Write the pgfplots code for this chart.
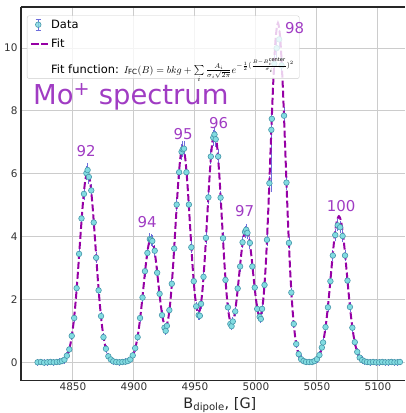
\documentclass[border=0pt]{standalone}
\usepackage{amsmath}
\usepackage{pgfplots}
\pgfplotsset{compat=1.18}
\usepackage{fontspec}
\setmainfont{DejaVu Sans}
\definecolor{mkfill}{RGB}{130,220,225}
\definecolor{mkedge}{RGB}{70,150,170}
\definecolor{errcol}{RGB}{110,110,220}
\definecolor{fitcol}{RGB}{150,0,165}
\definecolor{labcol}{RGB}{160,60,195}
\begin{document}
\begin{tikzpicture}
\useasboundingbox (-21bp,-32.3bp) rectangle (385bp,380.7bp);
\begin{axis}[
  scale only axis, width=384bp, height=373.7bp,
  xmin=4807.4, xmax=5122.15, ymin=-0.586, ymax=11.31,
  axis x line*=box, axis y line*=left,
  axis line style={line width=1.2bp, black!85},
  xtick={4850,4900,...,5100}, ytick={0,2,...,10},
  scaled x ticks=false,
  /pgf/number format/1000 sep={},
  /pgf/number format/assume math mode=true,
  major tick length=0pt,
  tick label style={font=\fontsize{10.5}{12}\selectfont, text=black!80},
  xticklabel style={yshift=1.5bp},
  grid=major, grid style={line width=1bp, black!20},
  xlabel={B\textsubscript{dipole}, [G]},
  xlabel style={at={(axis description cs:0.518,0)}, anchor=base, yshift=-27.5bp, font=\fontsize{14.5}{16}\selectfont, text=black!85},
  legend style={at={(axis description cs:0.0156,0.977)}, anchor=north west, draw=black!20, fill=white, fill opacity=0.8, text opacity=1, rounded corners=2bp, font=\fontsize{11.5}{13.5}\selectfont, row sep=5bp},
  legend cell align=left,
]
\addplot[forget plot, only marks, mark=*, mark size=2.8bp,
  mark options={draw=mkedge, fill=mkfill, line width=0.6bp},
  error bars/.cd, y dir=both, y explicit,
  error bar style={errcol, line width=0.8bp},
  error mark options={errcol, line width=0.8bp, mark size=2.5bp}]
table[x=x, y=y, y error plus=ep, y error minus=em] {
x y ep em
4821.0 0.00 0.03 0.03
4823.7 0.01 0.03 0.03
4826.3 -0.01 0.03 0.03
4829.0 0.00 0.03 0.03
4831.6 0.01 0.03 0.03
4834.2 0.00 0.03 0.03
4836.8 0.01 0.03 0.03
4839.2 0.02 0.03 0.03
4841 0.04 0.03 0.03
4843 0.08 0.04 0.04
4845 0.21 0.04 0.04
4847 0.41 0.04 0.04
4849 0.84 0.05 0.05
4851 1.41 0.05 0.05
4853 2.36 0.07 0.07
4855 3.45 0.09 0.09
4857 4.58 0.13 0.13
4859 5.36 0.13 0.13
4861 6.02 0.15 0.15
4862 6.12 0.15 0.15
4863 5.90 0.15 0.15
4865 5.47 0.13 0.13
4867 4.45 0.11 0.11
4869 3.33 0.09 0.09
4871 2.29 0.07 0.07
4873 1.47 0.05 0.05
4875 0.80 0.05 0.05
4877 0.43 0.04 0.04
4879 0.19 0.04 0.04
4881 0.09 0.04 0.04
4883 0.03 0.03 0.03
4885.5 0.01 0.03 0.03
4888 0.00 0.03 0.03
4890.5 0.01 0.03 0.03
4893 0.02 0.03 0.03
4895 0.04 0.03 0.03
4897 0.09 0.04 0.04
4899 0.22 0.04 0.04
4901 0.45 0.04 0.04
4903 0.80 0.05 0.05
4905 1.41 0.05 0.05
4907 2.06 0.07 0.07
4909 2.90 0.09 0.09
4911 3.48 0.09 0.09
4913 3.92 0.11 0.11
4914 3.90 0.11 0.11
4915 3.86 0.11 0.11
4917 3.55 0.11 0.11
4919 2.85 0.09 0.09
4921 2.18 0.07 0.07
4923 1.50 0.07 0.07
4925 1.10 0.05 0.05
4926 1.00 0.05 0.05
4927 1.16 0.05 0.05
4929 1.66 0.07 0.07
4931 2.50 0.07 0.07
4933 3.62 0.11 0.11
4935 5.02 0.13 0.13
4937 6.05 0.15 0.15
4939 6.70 0.17 0.17
4940 6.78 0.17 0.17
4941 6.80 0.17 0.17
4943 6.05 0.15 0.15
4945 5.02 0.13 0.13
4947 3.66 0.11 0.11
4949 2.58 0.09 0.09
4951 1.78 0.07 0.07
4953 1.50 0.07 0.07
4954 1.48 0.05 0.05
4955 1.86 0.07 0.07
4957 2.72 0.09 0.09
4959 3.96 0.11 0.11
4961 5.25 0.13 0.13
4963 6.55 0.17 0.17
4965 7.15 0.17 0.17
4966 7.25 0.17 0.17
4967 7.10 0.17 0.17
4969 6.55 0.17 0.17
4971 5.24 0.13 0.13
4973 3.95 0.11 0.11
4975 2.62 0.09 0.09
4977 1.75 0.07 0.07
4979 1.22 0.05 0.05
4980 1.15 0.05 0.05
4981 1.30 0.05 0.05
4983 1.62 0.07 0.07
4985 2.35 0.07 0.07
4987 3.05 0.09 0.09
4989 3.82 0.11 0.11
4991 4.15 0.11 0.11
4992 4.22 0.11 0.11
4993 4.12 0.11 0.11
4995 3.80 0.11 0.11
4997 3.05 0.09 0.09
4999 2.38 0.07 0.07
5001 1.70 0.07 0.07
5003 1.45 0.05 0.05
5004 1.38 0.05 0.05
5005 1.70 0.07 0.07
5007 2.46 0.07 0.07
5009 3.90 0.11 0.11
5011 5.70 0.15 0.15
5012.6 7.40 0.17 1.90
5013 7.75 0.19 0.19
5015 9.50 0.23 0.23
5017 10.00 0.23 0.23
5019 10.28 0.23 0.23
5021 9.45 0.23 0.23
5023 7.85 0.19 0.19
5025 5.72 0.15 0.15
5027 3.80 0.11 0.11
5029 2.22 0.07 0.07
5031 1.22 0.05 0.05
5033 0.58 0.05 0.05
5035 0.26 0.04 0.04
5037 0.10 0.04 0.04
5039 0.04 0.03 0.03
5041 0.01 0.03 0.03
5043.5 0.01 0.03 0.03
5046 0.01 0.03 0.03
5048 0.04 0.03 0.03
5050 0.10 0.04 0.04
5052 0.23 0.04 0.04
5054 0.47 0.04 0.04
5055 0.63 0.05 0.05
5057 1.12 0.05 0.05
5059 1.75 0.07 0.07
5061 2.58 0.09 0.09
5063 3.40 0.09 0.09
5065 4.05 0.11 0.11
5067 4.36 0.11 0.11
5069 4.30 0.11 0.11
5071 4.02 0.11 0.11
5073 3.40 0.09 0.09
5075 2.60 0.09 0.09
5077 1.76 0.07 0.07
5079 1.10 0.05 0.05
5081 0.64 0.05 0.05
5083 0.33 0.04 0.04
5085 0.15 0.04 0.04
5087 0.07 0.04 0.04
5089 0.03 0.03 0.03
5091 0.01 0.03 0.03
5093.5 0.00 0.03 0.03
5096 0.01 0.03 0.03
5098.5 0.00 0.03 0.03
5101 0.00 0.03 0.03
5103.5 0.01 0.03 0.03
5106 0.00 0.03 0.03
5108.5 0.00 0.03 0.03
5111 0.01 0.03 0.03
5113.5 0.00 0.03 0.03
5116 0.00 0.03 0.03
5118 0.01 0.03 0.03
};
\addplot[forget plot, fitcol, line width=2bp, dash pattern=on 7bp off 3bp, smooth] table {
4821 0
4826 0
4832 0
4836 0.002
4838 0.007
4840 0.020
4842 0.053
4844 0.131
4846 0.292
4848 0.595
4850 1.10
4852 1.85
4854 2.84
4856 3.95
4858 5.00
4860 5.77
4862 6.05
4864 5.77
4866 5.00
4868 3.95
4870 2.84
4872 1.85
4874 1.10
4876 0.595
4878 0.292
4880 0.131
4882 0.053
4884 0.020
4886 0.007
4888 0.003
4890 0.003
4892 0.007
4894 0.022
4896 0.058
4898 0.141
4900 0.309
4902 0.608
4904 1.074
4906 1.718
4908 2.473
4910 3.207
4912 3.749
4914 3.951
4916 3.753
4918 3.219
4920 2.511
4922 1.819
4924 1.319
4926 1.144
4928 1.364
4930 2.004
4932 3.038
4934 4.310
4936 5.569
4938 6.503
4940 6.852
4942 6.505
4944 5.575
4946 4.328
4948 3.088
4950 2.124
4952 1.626
4954 1.660
4956 2.231
4958 3.277
4960 4.608
4962 5.940
4964 6.932
4966 7.302
4968 6.930
4970 5.936
4972 4.593
4974 3.239
4976 2.138
4978 1.456
4980 1.226
4982 1.417
4984 1.957
4986 2.701
4988 3.464
4990 4.038
4992 4.253
4994 4.039
4996 3.470
4998 2.720
5000 2.009
5002 1.543
5004 1.500
5006 1.995
5008 3.090
5010 4.761
5012 6.784
5014 8.778
5016 10.251
5018 10.801
5020 10.249
5022 8.770
5024 6.761
5026 4.698
5028 2.938
5030 1.663
5032 0.845
5034 0.387
5036 0.160
5038 0.059
5040 0.019
5042 0.008
5044 0.007
5046 0.015
5048 0.041
5050 0.100
5052 0.225
5054 0.457
5056 0.846
5058 1.423
5060 2.181
5062 3.036
5064 3.846
5066 4.436
5068 4.650
5070 4.436
5072 3.846
5074 3.036
5076 2.181
5078 1.423
5080 0.846
5082 0.457
5084 0.225
5086 0.100
5088 0.041
5090 0.015
5092 0.005
5094 0.002
5100 0
5110 0
5118 0
};
\addlegendimage{legend image code/.code={
  \draw[errcol, line width=0.8bp] (0.25cm,-0.2cm) -- (0.25cm,0.2cm);
  \draw[errcol, line width=0.8bp] (0.16cm,-0.2cm) -- (0.34cm,-0.2cm);
  \draw[errcol, line width=0.8bp] (0.16cm,0.2cm) -- (0.34cm,0.2cm);
  \draw[mkedge, fill=mkfill, line width=0.6bp] (0.25cm,0cm) circle (2.8bp);
}}
\addlegendentry{Data}
\addlegendimage{fitcol, line width=2bp, dash pattern=on 7bp off 3bp}
\addlegendentry{Fit}
\addlegendimage{empty legend}
\addlegendentry{Fit function: {\fontsize{10.2}{12}\selectfont$I_{\mathrm{FC}}(B) = bkg + \sum\limits_i \frac{A_i}{\sigma_i\sqrt{2\pi}} e^{-\frac{1}{2}(\frac{B-B_i^{\mathrm{center}}}{\sigma_i})^2}$}}
\node[labcol, font=\fontsize{15}{17}\selectfont] at (axis cs:4860.7,6.71) {92};
\node[labcol, font=\fontsize{15}{17}\selectfont] at (axis cs:4910.7,4.47) {94};
\node[labcol, font=\fontsize{15}{17}\selectfont] at (axis cs:4940.2,7.25) {95};
\node[labcol, font=\fontsize{15}{17}\selectfont] at (axis cs:4969.3,7.60) {96};
\node[labcol, font=\fontsize{15}{17}\selectfont] at (axis cs:4990.6,4.80) {97};
\node[labcol, font=\fontsize{15}{17}\selectfont] at (axis cs:5069.7,4.96) {100};
\coordinate (mo) at (axis description cs:0.03125,0.7378);
\coordinate (l98) at (axis cs:5031.6,10.63);
\end{axis}
\node[labcol, font=\fontsize{15}{17}\selectfont] at (l98) {98};
\node[anchor=base west, inner sep=0pt, labcol, font=\fontsize{27.5}{30}\selectfont] at (mo) {Mo\textsuperscript{+} spectrum};
\end{tikzpicture}
\end{document}
